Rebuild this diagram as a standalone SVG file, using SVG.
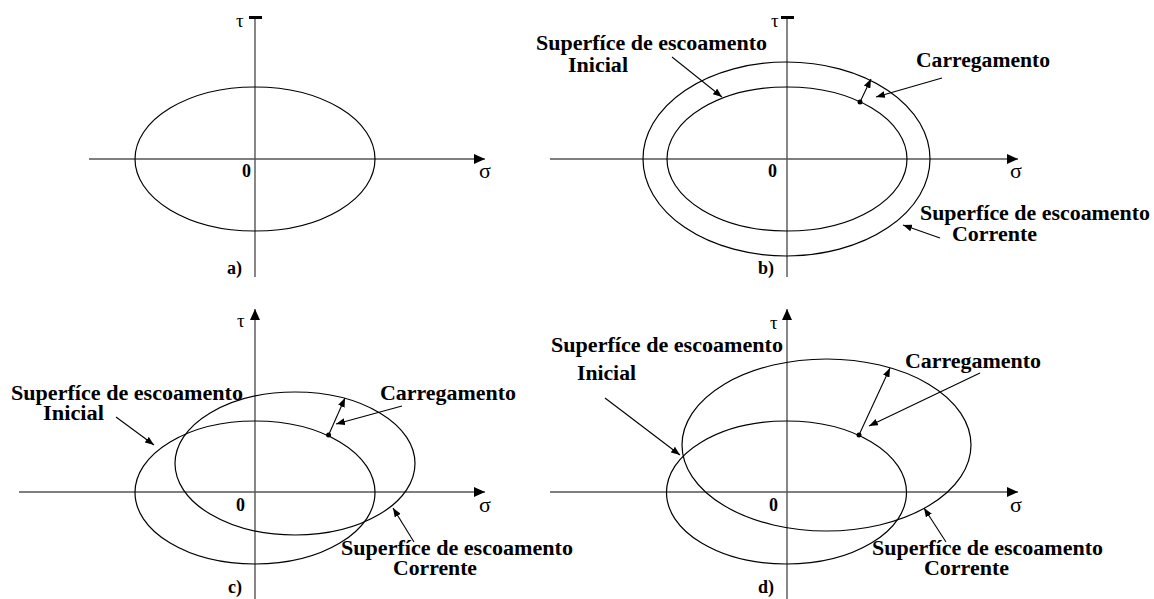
<svg xmlns="http://www.w3.org/2000/svg" width="1154" height="599" viewBox="0 0 1154 599">
<style>
.axis{stroke:#555;stroke-width:1.4;fill:none}
.ell{stroke:#000;stroke-width:1.2;fill:none}
.ld{stroke:#000;stroke-width:1.1;fill:none;marker-end:url(#lh)}
.lbl{font-family:"Liberation Serif",serif;font-weight:bold;font-size:20px;fill:#000}
.tau{font-family:"Liberation Serif",serif;font-size:19px;fill:#000}
.sig{font-family:"Liberation Serif",serif;font-size:22px;fill:#000}
.num{font-family:"Liberation Serif",serif;font-weight:bold;font-size:18px;fill:#000}
</style>
<defs>
<marker id="ah" markerWidth="11" markerHeight="10" refX="11" refY="5" orient="auto" markerUnits="userSpaceOnUse"><path d="M0,0 L11,5 L0,10 z" fill="#000"/></marker>
<marker id="lh" markerWidth="9" markerHeight="7" refX="9" refY="3.5" orient="auto" markerUnits="userSpaceOnUse"><path d="M0,0 L9,3.5 L0,7 z" fill="#000"/></marker>
</defs>

<g id="connectors">
<line class="axis" x1="89" y1="159" x2="485" y2="159" marker-end="url(#ah)"/>
<line class="axis" x1="255" y1="277" x2="255" y2="18"/>
<rect x="249" y="16" width="13" height="3" fill="#000"/>
<line class="axis" x1="550" y1="159" x2="1018" y2="159" marker-end="url(#ah)"/>
<line class="axis" x1="787" y1="277" x2="787" y2="18"/>
<rect x="781" y="16" width="13" height="3" fill="#000"/>
<line class="axis" x1="19" y1="492" x2="485" y2="492" marker-end="url(#ah)"/>
<line class="axis" x1="255" y1="599" x2="255" y2="309" marker-end="url(#ah)"/>
<line class="axis" x1="550" y1="492" x2="1018" y2="492" marker-end="url(#ah)"/>
<line class="axis" x1="787" y1="599" x2="787" y2="309" marker-end="url(#ah)"/>

<line class="ld" x1="672" y1="57" x2="722" y2="97"/>
<line class="ld" x1="860" y1="102" x2="871" y2="79"/>
<line class="ld" x1="942" y1="78" x2="876" y2="97"/>
<line class="ld" x1="940" y1="238" x2="903" y2="225"/>
<line class="ld" x1="116" y1="417" x2="154" y2="445"/>
<line class="ld" x1="328.6" y1="435" x2="345" y2="398"/>
<line class="ld" x1="402" y1="406" x2="336" y2="424"/>
<line class="ld" x1="414" y1="542" x2="393" y2="508"/>
<line class="ld" x1="605" y1="398" x2="680" y2="455"/>
<line class="ld" x1="859" y1="435" x2="890" y2="368"/>
<line class="ld" x1="980" y1="373" x2="869" y2="426"/>
<line class="ld" x1="946" y1="542" x2="924" y2="508"/>
</g>

<g id="panel-a">
<ellipse class="ell" cx="255" cy="159" rx="120" ry="72"/>
<text class="tau" x="236" y="27">τ</text>
<text class="sig" x="479" y="178">σ</text>
<text class="num" x="242" y="177">0</text>
<text class="num" x="227" y="274">a)</text>
</g>

<g id="panel-b">
<ellipse class="ell" cx="787" cy="159" rx="120" ry="72"/>
<ellipse class="ell" cx="786.5" cy="159" rx="143.5" ry="97"/>
<circle cx="860" cy="102" r="2.5" fill="#000"/>
<text class="tau" x="771" y="27">τ</text>
<text class="sig" x="1010" y="178">σ</text>
<text class="num" x="768" y="177">0</text>
<text class="num" x="758" y="274">b)</text>
<text class="lbl" x="536" y="50" textLength="231" lengthAdjust="spacingAndGlyphs">Superfíce de escoamento</text>
<text class="lbl" x="568" y="72" textLength="60" lengthAdjust="spacingAndGlyphs">Inicial</text>
<text class="lbl" x="916" y="67" textLength="134" lengthAdjust="spacingAndGlyphs">Carregamento</text>
<text class="lbl" x="920" y="220" textLength="230" lengthAdjust="spacingAndGlyphs">Superfíce de escoamento</text>
<text class="lbl" x="952" y="241" textLength="85" lengthAdjust="spacingAndGlyphs">Corrente</text>
</g>

<g id="panel-c">
<ellipse class="ell" cx="255" cy="492.5" rx="120" ry="71.5"/>
<ellipse class="ell" cx="295" cy="463.5" rx="120" ry="71.5"/>
<circle cx="328.6" cy="435" r="2.5" fill="#000"/>
<text class="tau" x="237" y="327">τ</text>
<text class="sig" x="479" y="512">σ</text>
<text class="num" x="236" y="511">0</text>
<text class="num" x="228" y="593">c)</text>
<text class="lbl" x="11" y="400" textLength="232" lengthAdjust="spacingAndGlyphs">Superfíce de escoamento</text>
<text class="lbl" x="43" y="420" textLength="61" lengthAdjust="spacingAndGlyphs">Inicial</text>
<text class="lbl" x="380" y="400" textLength="136" lengthAdjust="spacingAndGlyphs">Carregamento</text>
<text class="lbl" x="341" y="555" textLength="232" lengthAdjust="spacingAndGlyphs">Superfíce de escoamento</text>
<text class="lbl" x="393" y="575" textLength="84" lengthAdjust="spacingAndGlyphs">Corrente</text>
</g>

<g id="panel-d">
<ellipse class="ell" cx="786.5" cy="492.5" rx="120" ry="71.5"/>
<ellipse class="ell" cx="826.5" cy="445" rx="144.5" ry="86"/>
<circle cx="859" cy="435" r="2.5" fill="#000"/>
<text class="tau" x="770" y="329">τ</text>
<text class="sig" x="1010" y="512">σ</text>
<text class="num" x="769" y="511">0</text>
<text class="num" x="758" y="593">d)</text>
<text class="lbl" x="551" y="352" textLength="232" lengthAdjust="spacingAndGlyphs">Superfíce de escoamento</text>
<text class="lbl" x="577" y="380" textLength="59" lengthAdjust="spacingAndGlyphs">Inicial</text>
<text class="lbl" x="905" y="368" textLength="136" lengthAdjust="spacingAndGlyphs">Carregamento</text>
<text class="lbl" x="872" y="555" textLength="231" lengthAdjust="spacingAndGlyphs">Superfíce de escoamento</text>
<text class="lbl" x="924" y="575" textLength="85" lengthAdjust="spacingAndGlyphs">Corrente</text>
</g>
</svg>
